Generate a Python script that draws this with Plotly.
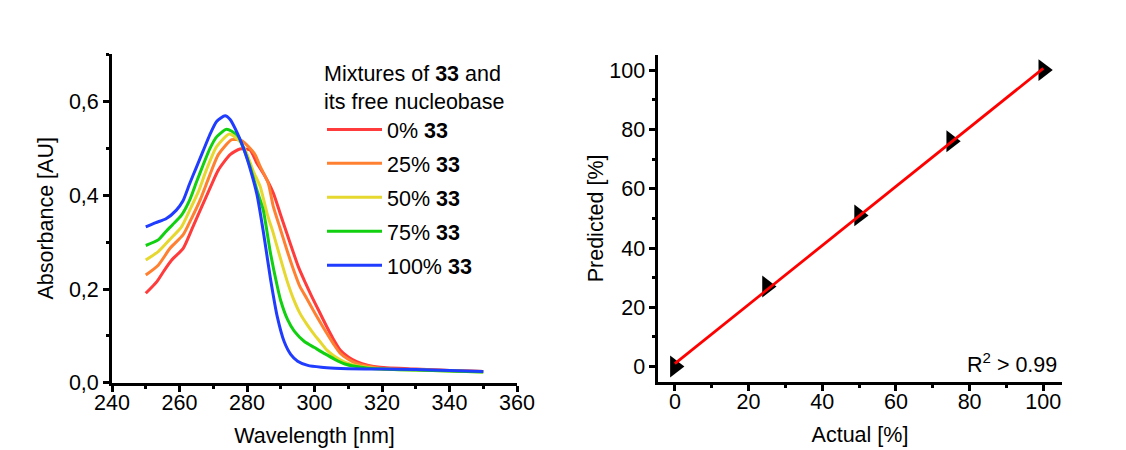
import plotly.graph_objects as go
import numpy as np

# ---- Data: UV spectra (left panel) ----
wl_0 = [250, 253.3, 255.5, 257.7, 261.1, 263.8, 266.6, 269, 271.5, 275, 277.9, 280.9, 282.9, 285, 287.8, 289.8,
        291.8, 293.5, 295.2, 297.2, 299.2, 301.4, 303.6, 305.6, 307.6, 310, 312.5, 316, 319.4, 330, 340, 350]
abs_0 = [0.191, 0.216, 0.240, 0.262, 0.287, 0.330, 0.376, 0.415, 0.454, 0.487, 0.499, 0.497, 0.469, 0.445, 0.405, 0.362,
         0.319, 0.283, 0.248, 0.215, 0.184, 0.152, 0.120, 0.093, 0.070, 0.055, 0.045, 0.037, 0.033, 0.029, 0.026, 0.024]

wl_25 = [250, 253.7, 257.2, 261.1, 263.5, 266.1, 268.8, 271.5, 275.5, 278.4, 279.9, 282.4, 283.9, 286.3, 287.8, 289.8,
         291.8, 293.7, 295.7, 297.7, 299.6, 301.6, 303.6, 305.6, 307.6, 310, 312.5, 316, 319.4, 330, 340, 350]
abs_25 = [0.230, 0.251, 0.287, 0.316, 0.350, 0.390, 0.440, 0.487, 0.519, 0.517, 0.508, 0.487, 0.462, 0.426, 0.376, 0.330,
          0.284, 0.243, 0.205, 0.180, 0.155, 0.130, 0.106, 0.083, 0.063, 0.050, 0.041, 0.035, 0.031, 0.028, 0.026, 0.024]

wl_50 = [250, 253.7, 257, 260.6, 263, 265.6, 268, 271, 274.8, 277.9, 279.9, 281.9, 283.9, 286, 287.8, 289.8,
         291.8, 293.7, 295.7, 297.7, 299.6, 301.6, 303.6, 305.6, 307.6, 310, 312.5, 316, 320, 330, 340, 350]
abs_50 = [0.262, 0.280, 0.305, 0.333, 0.368, 0.408, 0.455, 0.504, 0.531, 0.515, 0.490, 0.451, 0.419, 0.360, 0.319, 0.268,
          0.219, 0.180, 0.148, 0.125, 0.106, 0.088, 0.070, 0.058, 0.049, 0.041, 0.036, 0.032, 0.029, 0.027, 0.025, 0.023]

wl_75 = [250, 253.7, 256, 258, 260.6, 263, 265, 267, 269, 271, 273.8, 275.5, 277.4, 279, 280.9, 283, 284.8, 287,
         289, 290, 292, 294, 297, 300, 303, 306, 309, 312, 316, 320, 330, 340, 350]
abs_75 = [0.293, 0.305, 0.323, 0.338, 0.358, 0.390, 0.428, 0.465, 0.500, 0.525, 0.541, 0.537, 0.526, 0.500, 0.462, 0.410,
          0.369, 0.275, 0.205, 0.175, 0.135, 0.110, 0.088, 0.075, 0.062, 0.050, 0.040, 0.035, 0.031, 0.029, 0.027, 0.025,
          0.023]

wl_100 = [250, 253, 256, 259, 261, 263, 265, 267, 269, 271, 273.5, 275, 277, 279, 281, 283, 285, 287, 289, 291,
          293, 295, 298, 302, 306, 310, 320, 330, 340, 350]
abs_100 = [0.333, 0.342, 0.350, 0.368, 0.388, 0.425, 0.460, 0.495, 0.530, 0.558, 0.570, 0.562, 0.535, 0.500, 0.455,
           0.400, 0.315, 0.220, 0.140, 0.088, 0.060, 0.046, 0.037, 0.033, 0.031, 0.030, 0.029, 0.028, 0.026, 0.024]

series_names = ["0% <b>33</b>", "25% <b>33</b>", "50% <b>33</b>", "75% <b>33</b>", "100% <b>33</b>"]
series_colors = ["#ff3b3b", "#ff8030", "#e6d82e", "#10d010", "#1f3cff"]
series_wl = [wl_0, wl_25, wl_50, wl_75, wl_100]
series_abs = [abs_0, abs_25, abs_50, abs_75, abs_100]

# ---- Data: calibration (right panel) ----
actual = [0, 25, 50, 75, 100]
predicted = [0, 27, 51, 76, 100]

FONT = "Liberation Sans, Arial, sans-serif"
FS = 21.5

fig = go.Figure()

for i, (name, col, wl, ab) in enumerate(zip(series_names, series_colors, series_wl, series_abs)):
    fig.add_trace(go.Scatter(x=wl, y=ab, mode="lines", name=name, legendgroup=f"g{i}",
                             line=dict(color=col, width=3, shape="spline", smoothing=0.6),
                             xaxis="x", yaxis="y"))

fig.add_trace(go.Scatter(x=actual, y=predicted, mode="markers", showlegend=False,
                         marker=dict(symbol="triangle-right", size=19, color="black"),
                         xaxis="x2", yaxis="y2"))
slope, intercept = np.polyfit(actual, predicted, 1)
fit_x = [actual[0], actual[-1]]
fit_y = [slope * v + intercept for v in fit_x]
fig.add_trace(go.Scatter(x=fit_x, y=fit_y, mode="lines", showlegend=False,
                         line=dict(color="#ff0000", width=2.8), xaxis="x2", yaxis="y2"))

W, H = 1126, 450

axis_common = dict(showline=True, linecolor="black", linewidth=2.8, ticks="outside", ticklen=6,
                   tickwidth=2.8, tickcolor="black", showgrid=False, zeroline=False, automargin=False,
                   tickfont=dict(family=FONT, size=FS, color="black"), mirror=False)

fig.update_layout(
    width=W, height=H, margin=dict(l=0, r=0, t=0, b=0, autoexpand=False),
    paper_bgcolor="white", plot_bgcolor="white",
    separators=",.",
    font=dict(family=FONT, size=FS, color="black"),
    xaxis=dict(domain=[112 / W, 517 / W], range=[240, 360], dtick=20, anchor="y", ticklabelstandoff=-7,
               minor=dict(ticks="outside", ticklen=3, tickwidth=2.5, dtick=10, tickcolor="black"),
               title=dict(text="Wavelength [nm]", font=dict(family=FONT, size=FS), standoff=14),
               **axis_common),
    yaxis=dict(domain=[(H - 382.7) / H, (H - 54) / H], range=[0, 0.702], dtick=0.2, tickformat=".1f",
               anchor="x",
               minor=dict(ticks="outside", ticklen=3, tickwidth=2.5, dtick=0.1, tickcolor="black"),
               title=dict(text="Absorbance [AU]", font=dict(family=FONT, size=FS), standoff=10),
               **axis_common),
    xaxis2=dict(domain=[658.3 / W, 1061.7 / W], range=[-4.5, 105], dtick=20, anchor="y2", ticklabelstandoff=-7,
                minor=dict(ticks="outside", ticklen=3, tickwidth=2.5, dtick=10, tickcolor="black"),
                title=dict(text="Actual [%]", font=dict(family=FONT, size=FS), standoff=14),
                **axis_common),
    yaxis2=dict(domain=[(H - 381.7) / H, (H - 55) / H], range=[-5.1, 105.1], dtick=20, anchor="x2",
                minor=dict(ticks="outside", ticklen=3, tickwidth=2.5, dtick=10, tickcolor="black"),
                title=dict(text="Predicted [%]", font=dict(family=FONT, size=FS), standoff=0),
                **axis_common),
    legend=dict(x=322 / W, y=1 - 53 / H, xanchor="left", yanchor="top", bgcolor="rgba(0,0,0,0)",
                font=dict(family=FONT, size=FS, color="black"), tracegroupgap=3, itemwidth=55,
                title=dict(text="Mixtures of <b>33</b> and<br>its free nucleobase",
                           font=dict(family=FONT, size=FS, color="black"))),
    annotations=[dict(text="R<sup>2</sup> > 0.99", xref="paper", yref="paper", x=1059 / W, y=(H - 363) / H,
                      xanchor="right", yanchor="middle", showarrow=False,
                      font=dict(family=FONT, size=FS, color="black"))],
)

fig.write_html("out.html", config={"displayModeBar": False},
               post_script="document.body.style.margin='0';")
